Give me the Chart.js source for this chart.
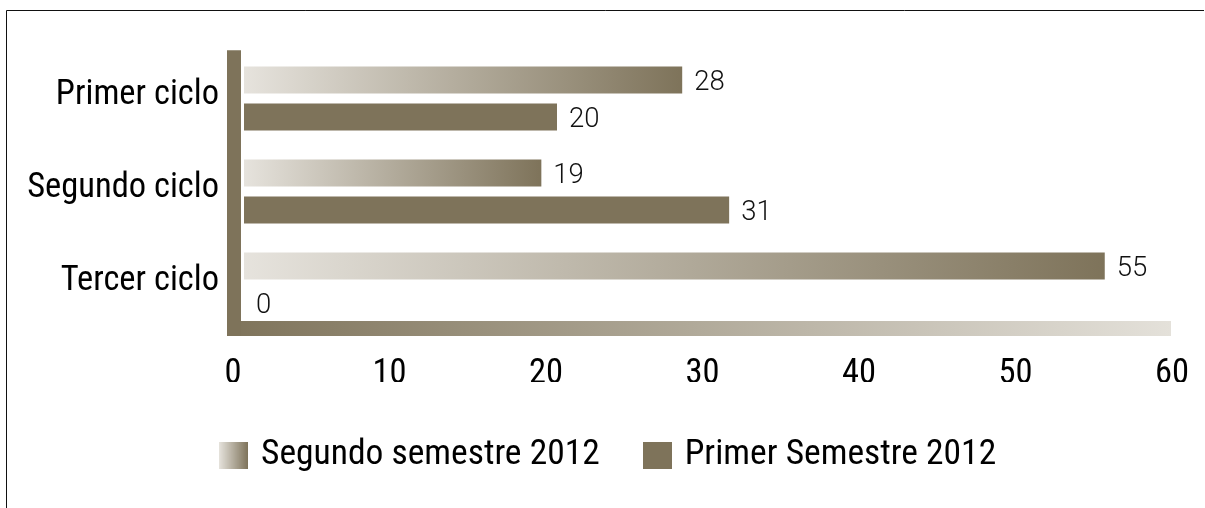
<!DOCTYPE html>
<html>
<head>
<meta charset="utf-8">
<script src="https://cdn.jsdelivr.net/npm/chart.js@4.4.0/dist/chart.umd.min.js"></script>
<style>
  html, body { margin: 0; padding: 0; background: #fff; }
  #wrap { position: relative; width: 1205px; height: 508px; }
</style>
</head>
<body>
<div id="wrap"><canvas id="c" width="1205" height="508"></canvas></div>
<script>
// ---- data ----
const categories = ['Primer ciclo', 'Segundo ciclo', 'Tercer ciclo'];
const seriesNames = ['Segundo semestre 2012', 'Primer Semestre 2012'];
const segundoSemestre = [28, 19, 55];
const primerSemestre = [20, 31, 0];
const xTicks = [0, 10, 20, 30, 40, 50, 60];

// ---- style ----
const DARK = '#7e735a';
const LIGHT = '#e6e3dd';
const FLOOR_LIGHT = '#e4e1da';

// pick the most condensed-looking installed face (reference uses a condensed grotesque)
const mctx = document.createElement('canvas').getContext('2d');
const CANDIDATES = [
  ['normal', "'Liberation Sans Narrow'"],
  ['condensed', "'Liberation Sans'"],
  ['normal', "'DejaVu Sans Condensed'"],
  ['semi-condensed', "'DejaVu Sans'"],
  ['condensed', "'DejaVu Sans'"],
  ['semi-condensed', "'Open Sans'"],
  ['condensed', "'Open Sans'"],
  ['semi-condensed', "Roboto"],
  ['condensed', "Roboto"],
  ['normal', "'Roboto Condensed'"],
  ['semi-condensed', "'Noto Sans'"],
  ['condensed', "'Noto Sans'"],
  ['normal', "'Liberation Sans'"]
];
const TARGET_RATIO = 192 / 25; // width of "Segundo ciclo" / cap height in the reference
let best = null;
CANDIDATES.forEach(([st, fam]) => {
  mctx.font = st + ' 100px ' + fam + ', sans-serif';
  const w = mctx.measureText(categories[1]).width;
  const cap = mctx.measureText('H').actualBoundingBoxAscent || 72;
  const r = w / cap;
  const d = Math.abs(r - TARGET_RATIO);
  if (!best || d < best.d - 0.01) best = { st, fam, d, w };
});
const STRETCH = best.st;
const FAMILY = best.fam + ', sans-serif';
const FS = +(100 * 192 / best.w).toFixed(1);      // axis text size
const LFS = +(FS * 1.03).toFixed(1);              // legend text size
const VS = 27.5;                                  // value label size (normal width, light)

function measure(txt, size) {
  mctx.font = STRETCH + ' ' + size + 'px ' + FAMILY;
  return mctx.measureText(txt).width;
}
// legend geometry
const BOXW = 29, BOXH = 27;
const PSW = Math.max(4, 55 - LFS);                 // pointStyleWidth
const LEG_X1 = 233.5 - PSW / 2;
const W1 = PSW + LFS / 2 + measure(seriesNames[0], LFS);
const LEG_PAD = Math.max(10, 423.7 - W1);
const LEG_H = LFS + LEG_PAD + 10;
const PAD_BOTTOM = Math.max(0, 126 - LEG_H);
const TICK_LEN = Math.max(0, 43 - 0.6 * FS);

function makeBox(w, h, gradient) {
  const cv = document.createElement('canvas');
  cv.width = w; cv.height = h;
  const c = cv.getContext('2d');
  if (gradient) {
    const g = c.createLinearGradient(0, 0, w, 0);
    g.addColorStop(0, LIGHT);
    g.addColorStop(1, DARK);
    c.fillStyle = g;
  } else {
    c.fillStyle = DARK;
  }
  c.fillRect(0, 0, w, h);
  return cv;
}
const boxLight = makeBox(BOXW, BOXH, true);
const boxDark = makeBox(BOXW, BOXH, false);

function lightGradient(context) {
  const chart = context.chart;
  if (!chart.chartArea || !chart.scales.x) return LIGHT;
  const v = context.raw;
  const x0 = chart.scales.x.getPixelForValue(0);
  const x1 = chart.scales.x.getPixelForValue(v);
  if (x1 - x0 < 1) return LIGHT;
  const g = chart.ctx.createLinearGradient(x0, 0, x1, 0);
  g.addColorStop(0, LIGHT);
  g.addColorStop(1, DARK);
  return g;
}

const framePlugin = {
  id: 'frame',
  afterLayout(chart) {
    const lg = chart.legend;
    if (lg) {
      lg.left = LEG_X1 - LEG_PAD;
      lg.top = 455 - LFS / 2 - LEG_PAD;
    }
  },
  beforeDraw(chart) {
    const ctx = chart.ctx;
    ctx.save();
    ctx.fillStyle = '#fff';
    ctx.fillRect(0, 0, chart.width, chart.height);
    ctx.strokeStyle = '#111';
    ctx.lineWidth = 1;
    ctx.beginPath();
    ctx.moveTo(6.5, chart.height);
    ctx.lineTo(6.5, 10.5);
    ctx.lineTo(chart.width - 1, 10.5);
    ctx.stroke();
    ctx.restore();
  }
};

const wallsPlugin = {
  id: 'walls',
  beforeDatasetsDraw(chart) {
    const ctx = chart.ctx;
    const xs = chart.scales.x;
    const area = chart.chartArea;
    const x0 = xs.getPixelForValue(xTicks[0]);
    const xEnd = xs.getPixelForValue(xTicks[xTicks.length - 1]);
    ctx.save();
    const fl = x0 - 17, fr = xEnd - 12;
    const ft = area.bottom - 10, fb = area.bottom + 5;
    const g = ctx.createLinearGradient(fl, 0, fr, 0);
    g.addColorStop(0, DARK);
    g.addColorStop(1, FLOOR_LIGHT);
    ctx.fillStyle = g;
    ctx.fillRect(fl, ft, fr - fl, fb - ft);
    ctx.fillStyle = DARK;
    ctx.fillRect(x0 - 17, area.top - 2, 14, fb - (area.top - 2));
    ctx.fillStyle = 'rgba(255,255,255,0.25)';
    ctx.fillRect(x0 - 17, area.top - 2, 14, 1);
    ctx.restore();
  }
};

const valueLabels = {
  id: 'valueLabels',
  afterDatasetsDraw(chart) {
    const ctx = chart.ctx;
    ctx.save();
    ctx.font = '300 ' + VS + 'px ' + FAMILY;
    ctx.fillStyle = '#111';
    ctx.textAlign = 'left';
    ctx.textBaseline = 'middle';
    chart.data.datasets.forEach((ds, i) => {
      const meta = chart.getDatasetMeta(i);
      meta.data.forEach((bar, j) => {
        ctx.fillText(String(ds.data[j]), bar.x + 12, bar.y + 3);
      });
    });
    ctx.restore();
  }
};

new Chart(document.getElementById('c'), {
  type: 'bar',
  data: {
    labels: categories,
    datasets: [
      {
        label: seriesNames[0],
        data: segundoSemestre,
        backgroundColor: lightGradient,
        borderWidth: 0,
        categoryPercentage: 0.796,
        barPercentage: 0.73
      },
      {
        label: seriesNames[1],
        data: primerSemestre,
        backgroundColor: DARK,
        borderWidth: 0,
        categoryPercentage: 0.796,
        barPercentage: 0.73
      }
    ]
  },
  options: {
    indexAxis: 'y',
    responsive: false,
    animation: false,
    events: [],
    layout: { padding: { left: 0, right: 22, top: 52, bottom: PAD_BOTTOM } },
    scales: {
      x: {
        type: 'linear',
        min: xTicks[0],
        max: xTicks[xTicks.length - 1],
        afterBuildTicks(scale) { scale.ticks = xTicks.map(v => ({ value: v })); },
        afterFit(scale) { scale.height = 51; },
        grid: { display: false, drawTicks: true, tickLength: TICK_LEN },
        border: { display: false },
        ticks: {
          padding: 0,
          labelOffset: -11,
          maxRotation: 0,
          color: '#000',
          font: { family: FAMILY, weight: STRETCH, size: FS }
        }
      },
      y: {
        afterFit(scale) { scale.width = 244; },
        grid: { display: false, drawTicks: false },
        border: { display: false },
        ticks: {
          padding: 25,
          labelOffset: -3,
          color: '#000',
          font: { family: FAMILY, weight: STRETCH, size: FS }
        }
      }
    },
    plugins: {
      tooltip: { enabled: false },
      legend: {
        position: 'bottom',
        align: 'start',
        labels: {
          usePointStyle: true,
          pointStyleWidth: PSW,
          padding: LEG_PAD,
          color: '#000',
          font: { family: FAMILY, weight: STRETCH, size: LFS },
          generateLabels() {
            return [
              { text: seriesNames[0], pointStyle: boxLight, fillStyle: LIGHT, strokeStyle: 'transparent', lineWidth: 0, hidden: false, datasetIndex: 0, fontColor: '#000' },
              { text: seriesNames[1], pointStyle: boxDark, fillStyle: DARK, strokeStyle: 'transparent', lineWidth: 0, hidden: false, datasetIndex: 1, fontColor: '#000' }
            ];
          }
        }
      }
    }
  },
  plugins: [framePlugin, wallsPlugin, valueLabels]
});
</script>
</body>
</html>
